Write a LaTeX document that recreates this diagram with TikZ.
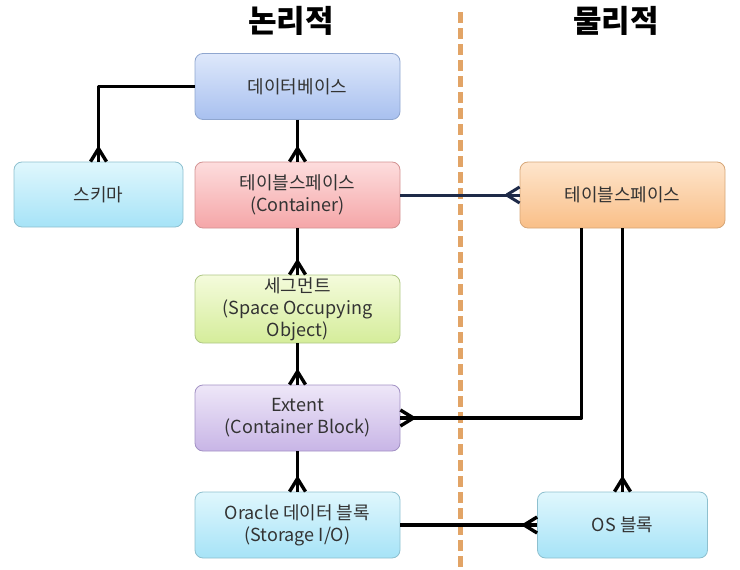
\documentclass[tikz,border=0pt]{standalone}
\usepackage{fontspec}
\setmainfont{Noto Sans CJK KR}
\usetikzlibrary{calc}
\definecolor{txt}{HTML}{333333}
\definecolor{dashc}{HTML}{E2A466}
\definecolor{navy}{HTML}{1E2A48}
\definecolor{bluedraw}{HTML}{8FA6CF}\definecolor{bluetop}{HTML}{DEE8FB}\definecolor{bluebot}{HTML}{A8C0EF}
\definecolor{cyandraw}{HTML}{8EC0CF}\definecolor{cyantop}{HTML}{E0F7FD}\definecolor{cyanbot}{HTML}{A6E3F7}
\definecolor{reddraw}{HTML}{D39393}\definecolor{redtop}{HTML}{FDDDDD}\definecolor{redbot}{HTML}{F5A6A8}
\definecolor{greendraw}{HTML}{AFC786}\definecolor{greentop}{HTML}{F4FBDC}\definecolor{greenbot}{HTML}{D5ED9A}
\definecolor{purpledraw}{HTML}{A291C4}\definecolor{purpletop}{HTML}{EEE7F8}\definecolor{purplebot}{HTML}{C8B5E6}
\definecolor{orangedraw}{HTML}{D6A677}\definecolor{orangetop}{HTML}{FEE5CC}\definecolor{orangebot}{HTML}{F9BF88}
\tikzset{
  box/.style={rectangle, rounded corners=8pt, minimum width=205pt, minimum height=66pt,
    align=center, text=txt, font=\fontsize{18}{22}\selectfont, line width=0.8pt, inner sep=1pt},
  bluebox/.style={box, draw=bluedraw, top color=bluetop, bottom color=bluebot},
  cyanbox/.style={box, draw=cyandraw, top color=cyantop, bottom color=cyanbot},
  redbox/.style={box, draw=reddraw, top color=redtop, bottom color=redbot},
  greenbox/.style={box, draw=greendraw, top color=greentop, bottom color=greenbot},
  purplebox/.style={box, draw=purpledraw, top color=purpletop, bottom color=purplebot},
  orangebox/.style={box, draw=orangedraw, top color=orangetop, bottom color=orangebot},
  conn/.style={line width=3.4pt, black, line join=round},
  navyconn/.style={line width=3pt, navy},
  title/.style={font=\fontsize{31}{34}\selectfont\bfseries, text=black},
}
\newcommand\crowN[2][conn]{\draw[#1] ($(#2)+(0,-13)$) -- ($(#2)+(-8,0)$) ($(#2)+(0,-13)$) -- ($(#2)+(8,0)$);}
\newcommand\crowW[2][conn]{\draw[#1] ($(#2)+(-13,0)$) -- ($(#2)+(0,-8)$) ($(#2)+(-13,0)$) -- ($(#2)+(0,8)$);}
\newcommand\crowE[2][conn]{\draw[#1] ($(#2)+(13,0)$) -- ($(#2)+(0,-8)$) ($(#2)+(13,0)$) -- ($(#2)+(0,8)$);}
\begin{document}
\begin{tikzpicture}[x=1pt,y=-1pt]
\useasboundingbox (0,0) rectangle (740,570);
% titles
\node[title] (tl) at (291,21) {논리적};
\node[title] (tp) at (616,21) {물리적};
% divider
\coordinate (d1) at (460,12);
\coordinate (d2) at (460,568);
\draw[dashc, line width=5pt, dash pattern=on 11pt off 5pt] (d1) -- (d2);
% nodes
\node[bluebox] (db) at (297.5,86.5) {데이터베이스};
\node[cyanbox, minimum width=169pt, minimum height=65pt] (sch) at (98.5,194.5) {스키마};
\node[redbox] (lts) at (297.5,195) {테이블스페이스\\(Container)};
\node[greenbox, minimum height=68pt] (seg) at (297.5,309) {세그먼트\\(Space Occupying\\Object)};
\node[purplebox] (ext) at (297.5,418) {Extent\\(Container Block)};
\node[cyanbox] (ora) at (297.5,525) {Oracle 데이터 블록\\(Storage I/O)};
\node[orangebox] (pts) at (622.5,195) {테이블스페이스};
\node[cyanbox, minimum width=170pt] (os) at (622.5,525) {OS 블록};
% connectors
\draw[conn] (db.west) -| (sch.north); \crowN{sch.north}
\draw[conn] (db.south) -- (lts.north); \crowN{lts.north}
\draw[conn] (lts.south) -- (seg.north); \crowN{seg.north}
\draw[conn] (seg.south) -- (ext.north); \crowN{ext.north}
\draw[conn] (ext.south) -- (ora.north); \crowN{ora.north}
\draw[navyconn] (lts.east) -- (pts.west); \crowW[navyconn]{pts.west}
\coordinate (pb) at ($(pts.south)+(-41,0)$);
\draw[conn] (pb) |- (ext.east); \crowE{ext.east}
\draw[conn] (pts.south) -- (os.north); \crowN{os.north}
\draw[conn] (ora.east) -- (os.west); \crowW{os.west}
\end{tikzpicture}
\end{document}
